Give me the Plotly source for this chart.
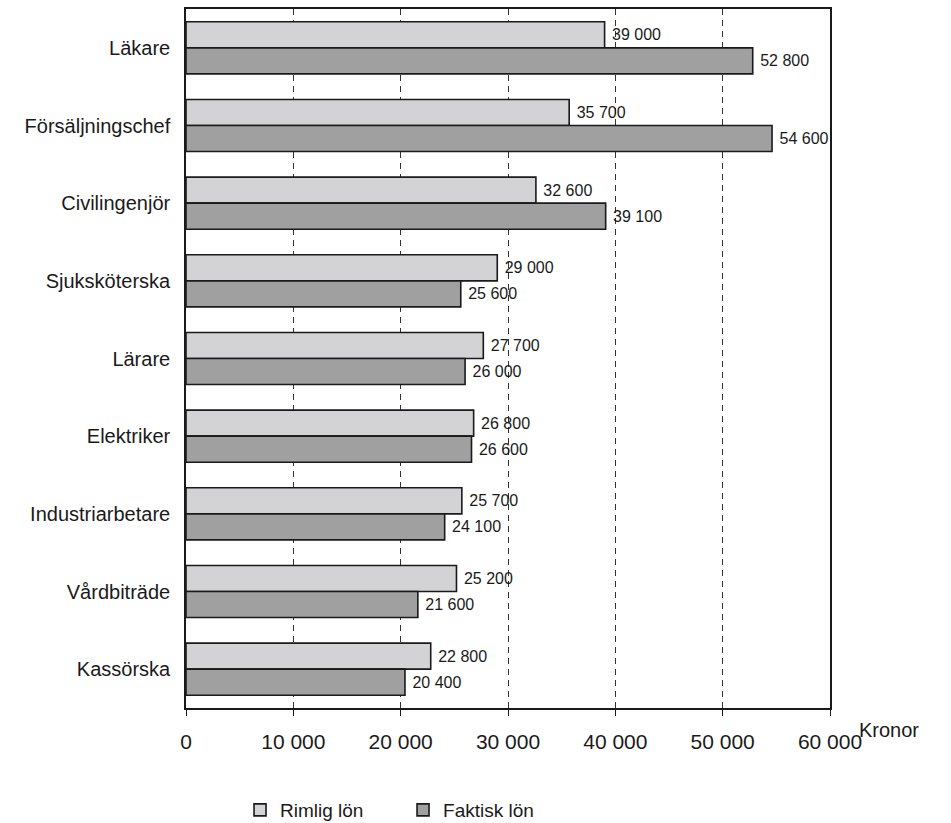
import plotly.graph_objects as go

categories = ["Läkare", "Försäljningschef", "Civilingenjör", "Sjuksköterska", "Lärare",
              "Elektriker", "Industriarbetare", "Vårdbiträde", "Kassörska"]
rimlig = [39000, 35700, 32600, 29000, 27700, 26800, 25700, 25200, 22800]
faktisk = [52800, 54600, 39100, 25600, 26000, 26600, 24100, 21600, 20400]
x_ticks = [0, 10000, 20000, 30000, 40000, 50000, 60000]
x_ticklabels = ["0", "10 000", "20 000", "30 000", "40 000", "50 000", "60 000"]


def fmt(v):
    return "\u00a0" + f"{v:,}".replace(",", " ")


FONT = "Liberation Sans, Arial, sans-serif"

fig = go.Figure()
fig.add_trace(go.Bar(
    y=categories, x=rimlig, orientation="h", name="Rimlig lön",
    marker=dict(color="#d3d3d5", line=dict(color="#1a1a1a", width=1.6)),
    text=[fmt(v) for v in rimlig], textposition="outside",
    textfont=dict(size=16, color="#1a1a1a", family=FONT), cliponaxis=False,
))
fig.add_trace(go.Bar(
    y=categories, x=faktisk, orientation="h", name="Faktisk lön",
    marker=dict(color="#a0a0a0", line=dict(color="#1a1a1a", width=1.6)),
    text=[fmt(v) for v in faktisk], textposition="outside",
    textfont=dict(size=16, color="#1a1a1a", family=FONT), cliponaxis=False,
))

fig.update_layout(
    width=951, height=823,
    margin=dict(l=186, r=121, t=9, b=115, autoexpand=False),
    paper_bgcolor="white", plot_bgcolor="white",
    barmode="group", bargap=0.33, bargroupgap=0,
    font=dict(family=FONT, size=20, color="#1a1a1a"),
    showlegend=True,
    legend=dict(orientation="h", x=0.337, xanchor="center", y=-0.146, yanchor="middle",
                font=dict(size=19, color="#1a1a1a"), traceorder="normal",
                itemwidth=30, entrywidth=118, entrywidthmode="pixels"),
    xaxis=dict(range=[0, 60000], tickvals=x_ticks, ticktext=x_ticklabels,
               showgrid=True, gridcolor="#333", griddash="6px,5px", gridwidth=1,
               showline=True, linecolor="#1a1a1a", linewidth=1.6, mirror=True,
               ticks="outside", ticklen=6, tickcolor="#1a1a1a",
               ticklabelstandoff=8, zeroline=False,
               tickfont=dict(size=21, color="#1a1a1a")),
    yaxis=dict(autorange="reversed", showline=True, linecolor="#1a1a1a", linewidth=1.6,
               mirror=True, ticks="", ticklabelstandoff=10,
               tickfont=dict(size=20, color="#1a1a1a")),
)

fig.add_annotation(xref="paper", yref="paper", x=1.042, y=-0.031, xanchor="left",
                   yanchor="middle", text="Kronor", showarrow=False,
                   font=dict(size=20, color="#1a1a1a"))

fig.write_html("out.html")
